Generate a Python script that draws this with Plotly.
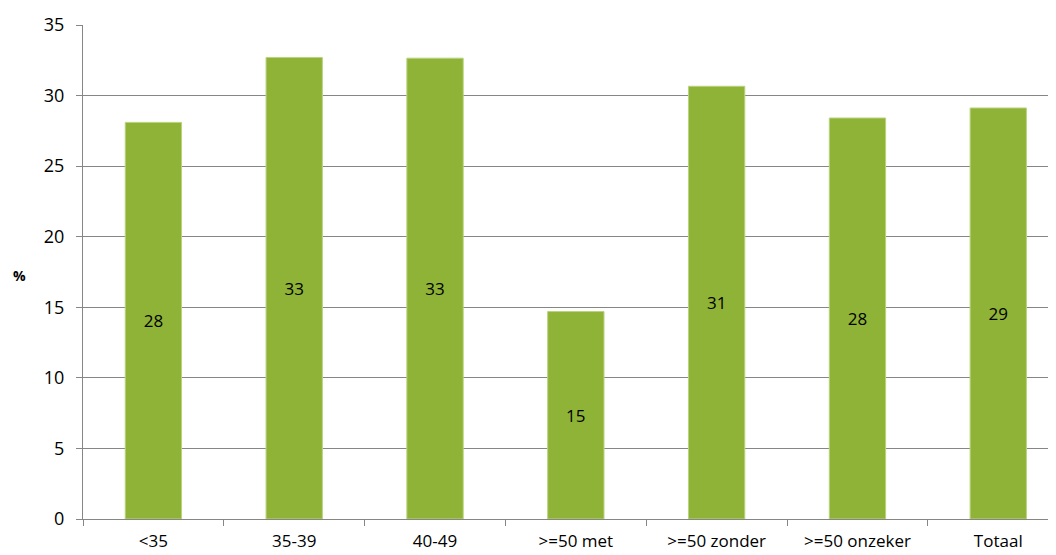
import plotly.graph_objects as go

categories = ["<35", "35-39", "40-49", ">=50 met", ">=50 zonder", ">=50 onzeker", "Totaal"]
values = [28.1, 32.7, 32.65, 14.7, 30.66, 28.41, 29.12]
labels = ["28", "33", "33", "15", "31", "28", "29"]
y_ticks = [0, 5, 10, 15, 20, 25, 30, 35]

W, H = 1048, 547
L, T, B = 75, 17, 36
plot_h = H - T - B

fig = go.Figure()
fig.add_trace(go.Bar(
    x=categories, y=values, width=0.4,
    marker=dict(color="#8FB337", line=dict(color="#B9D37E", width=1)),
    text=labels, textposition="inside", insidetextanchor="middle",
    textfont=dict(family="Open Sans", size=17, color="#000000"),
    textangle=0, cliponaxis=False,
))

fig.update_layout(
    width=W, height=H,
    margin=dict(l=L, r=0, t=T, b=B),
    plot_bgcolor="white", paper_bgcolor="white",
    showlegend=False, bargap=0.6,
    font=dict(family="Open Sans", size=18, color="#000000"),
    annotations=[dict(text="<b>%</b>", xref="paper", yref="paper",
                      x=(11 - L) / (W - L), y=(H - B - 267) / plot_h,
                      xanchor="center", yanchor="middle",
                      showarrow=False, font=dict(size=14))],
)
fig.update_xaxes(
    type="category", range=[-0.5, 6.41], automargin=False,
    showline=True, linecolor="#868686", linewidth=1,
    ticks="outside", tickson="boundaries", ticklen=6, tickcolor="#868686",
    showgrid=False, tickfont=dict(size=17), ticklabelstandoff=7,
)
fig.update_yaxes(
    range=[0, 35], tickvals=y_ticks, automargin=False,
    showline=True, linecolor="#868686", linewidth=1,
    ticks="outside", ticklen=6, tickcolor="#868686",
    showgrid=True, gridcolor="#868686", gridwidth=1,
    zeroline=False, tickfont=dict(size=18),
    ticklabelstandoff=8,
)
fig.write_html("out.html")
